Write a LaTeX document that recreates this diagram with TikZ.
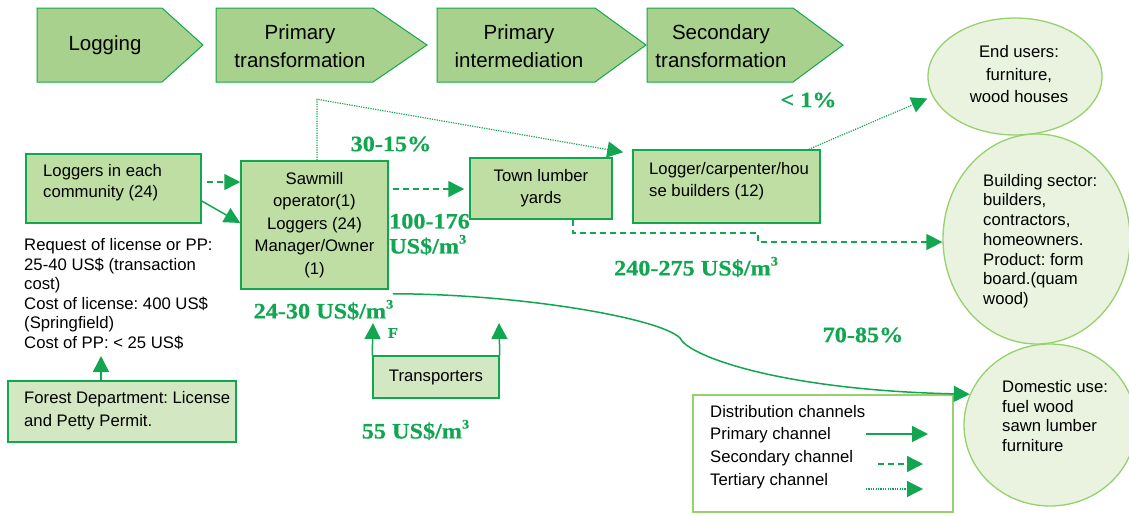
\documentclass[tikz,border=0pt]{standalone}
\usepackage{fontspec}
\setmainfont{Liberation Sans}
\newfontfamily\labfont{Liberation Serif}[FakeStretch=1.1, BoldFeatures={FakeBold=0.6}]
\usetikzlibrary{arrows.meta,shapes.geometric,calc}
\definecolor{gline}{HTML}{11A64F}
\definecolor{labgreen}{HTML}{12A650}
\definecolor{chevfill}{HTML}{A9D18E}
\definecolor{boxfill}{HTML}{BFDEA3}
\definecolor{lightfill}{HTML}{D3E7C2}
\definecolor{ellfill}{HTML}{E9F3DF}
\definecolor{ellline}{HTML}{95D16C}
\newcommand{\mcube}{\raisebox{0.45em}{\fontsize{13}{13}\selectfont 3}}
\tikzset{
 chev/.style={draw=gline, fill=chevfill, line width=1pt},
 chevtext/.style={font=\fontsize{20.5}{28}\selectfont, align=center, inner sep=0pt},
 box/.style={draw=gline, fill=boxfill, line width=1.5pt, inner sep=0pt},
 lbox/.style={box, fill=lightfill},
 ell/.style={ellipse, draw=ellline, fill=ellfill, line width=1.3pt, inner sep=0pt},
 txt/.style={font=\fontsize{16.7}{20}\selectfont, inner sep=0pt, align=left},
 lab/.style={font=\fontsize{22}{25}\labfont\bfseries, text=labgreen, inner sep=0pt, align=left},
 head/.style={-{Triangle[length=16pt,width=16pt]}},
 prim/.style={draw=gline, line width=1.5pt, head},
 sec/.style={prim, dash pattern=on 6pt off 4pt},
 ter/.style={prim, line width=1.2pt, dash pattern=on 1.2pt off 1.2pt},
}
\begin{document}
\frenchspacing
\begin{tikzpicture}[x=1pt,y=-1pt]
\useasboundingbox (0,0) rectangle (1129,515);

% stage chevrons
\draw[chev] (37,8) -- (162,8) -- (203,45) -- (162,82) -- (37,82) -- cycle;
\node[chevtext] (logging) at (105,45) {Logging};
\draw[chev] (216,8) -- (373,8) -- (427,45) -- (373,82) -- (216,82) -- cycle;
\node[chevtext] (ptrans) at (300,46) {Primary\\transformation};
\draw[chev] (437,8) -- (595,8) -- (646,45) -- (595,82) -- (437,82) -- cycle;
\node[chevtext] (pinter) at (519,46) {Primary\\intermediation};
\draw[chev] (647,8) -- (793,8) -- (843,45) -- (793,82) -- (647,82) -- cycle;
\node[chevtext] (strans) at (721,46) {Secondary\\transformation};

% boxes
\node[box, minimum width=175pt, minimum height=69pt] (loggers) at (113.5,188.5) {};
\node[txt, anchor=west, font=\fontsize{16.7}{21}\selectfont] (loggerst) at (43,182.5) {Loggers in each\\community (24)};
\node[box, minimum width=147pt, minimum height=128pt, align=center, font=\fontsize{16.7}{22.5}\selectfont] (sawmill) at (314.5,225) {Sawmill\\operator(1)\\Loggers (24)\\Manager/Owner\\(1)};
\node[box, minimum width=142pt, minimum height=61pt, align=center, font=\fontsize{16.7}{22}\selectfont] (town) at (541,188.5) {Town lumber\\yards};
\node[box, minimum width=187pt, minimum height=73pt] (logcarp) at (726.5,186.5) {};
\node[txt, anchor=west, font=\fontsize{16.7}{22}\selectfont] (logcarpt) at (649,181) {Logger/carpenter/hou\\se builders (12)};
\node[lbox, minimum width=228pt, minimum height=61pt] (forest) at (122,411.5) {};
\node[txt, anchor=west, font=\fontsize{16.7}{23}\selectfont] (forestt) at (24,410.5) {Forest Department: License\\and Petty Permit.};
\node[lbox, minimum width=126pt, minimum height=42pt, font=\fontsize{16.7}{20}\selectfont] (transp) at (436,377) {Transporters};
\node[txt, anchor=west, font=\fontsize{16.7}{19.6}\selectfont] (request) at (24,294) {Request of license or PP:\\25-40 US\$ (transaction\\cost)\\Cost of license: 400 US\$\\(Springfield)\\Cost of PP: < 25 US\$};

% end users
\node[ell, minimum width=174pt, minimum height=117pt] (enduse) at (1015,76.5) {};
\node[txt, align=center, font=\fontsize{16.7}{22.5}\selectfont] (enduset) at (1019,74.5) {End users:\\furniture,\\wood houses};
\node[ell, minimum width=187pt, minimum height=210pt] (building) at (1036.5,239) {};
\node[txt, anchor=west, font=\fontsize{16.7}{19.7}\selectfont] (buildingt) at (983,241) {Building sector:\\builders,\\contractors,\\homeowners.\\Product: form\\board.(quam\\wood)};
\node[ell, minimum width=172pt, minimum height=162pt] (domestic) at (1050,425) {};
\node[txt, anchor=west, font=\fontsize{16.7}{19.5}\selectfont] (domestict) at (1002,416) {Domestic use:\\fuel wood\\sawn lumber\\furniture};

% legend
\node[draw=ellline, line width=1.3pt, minimum width=260pt, minimum height=117pt, inner sep=0pt] (legend) at (823,453.5) {};
\node[txt, anchor=west, font=\fontsize{16.7}{22.7}\selectfont] (legendt) at (710,447) {Distribution channels\\Primary channel\\Secondary channel\\Tertiary channel};
\coordinate (l1a) at (866,434); \coordinate (l1b) at (928,434);
\coordinate (l2a) at (878,464); \coordinate (l2b) at (923,464);
\coordinate (l3a) at (866,489); \coordinate (l3b) at (923,489);
\draw[prim] (l1a) -- (l1b);
\draw[sec] (l2a) -- (l2b);
\draw[ter] (l3a) -- (l3b);

% labels
\node[lab] (l3015) at (391,144) {30-15\%};
\node[lab] (lone) at (808.5,100) {< 1\%};
\node[lab, anchor=west, font=\fontsize{22}{25}\labfont\bfseries] (l100) at (389,234.5) {100-176\\US\$/m\mcube};
\node[lab] (l240) at (696,267) {240-275 US\$/m\mcube};
\node[lab] (l2430) at (323.5,310) {24-30 US\$/m\mcube};
\node[lab] (l55) at (415.5,430) {55 US\$/m\mcube};
\node[lab] (l7085) at (863,335) {70-85\%};
\node[lab, font=\fontsize{15}{18}\labfont\bfseries] (lF) at (393,333) {F};

% connectors
\draw[sec] ($(loggers.east)+(5,-6.5)$) -- ($(sawmill.west)+(0,-43)$);
\draw[prim] ($(loggers.east)+(0,12.5)$) -- ($(sawmill.west)+(0,-2)$);
\draw[sec] ($(sawmill.east)+(4,-36)$) -- ($(town.west)+(-5,0.5)$);
\draw[ter] ($(sawmill.north)+(2.5,0)$) -- ++(0,-61) -- ($(logcarp.north west)+(-9,3)$);
\draw[ter] ($(logcarp.north east)+(-12,0)$) -- ($(enduse.west)+(0,22)$);
\coordinate (tb1) at (758,233);
\draw[sec] ($(town.south)+(32,0)$) |- (tb1) |- ($(building.west)+(0,3)$);
\draw[prim] ($(sawmill.south east)+(4,4)$) .. controls (520,294) and (660,318) .. (680,338) .. controls (688,356) and (780,390) .. (domestic.159);
\coordinate (fa) at (101,356);
\draw[prim] ($(forest.north)+(-21,0)$) -- (fa);
\coordinate (ta1) at (373,323);
\coordinate (ta2) at (499,323);
\draw[prim] (transp.north west) -- (ta1);
\draw[prim] (transp.north east) -- (ta2);
\end{tikzpicture}
\end{document}
